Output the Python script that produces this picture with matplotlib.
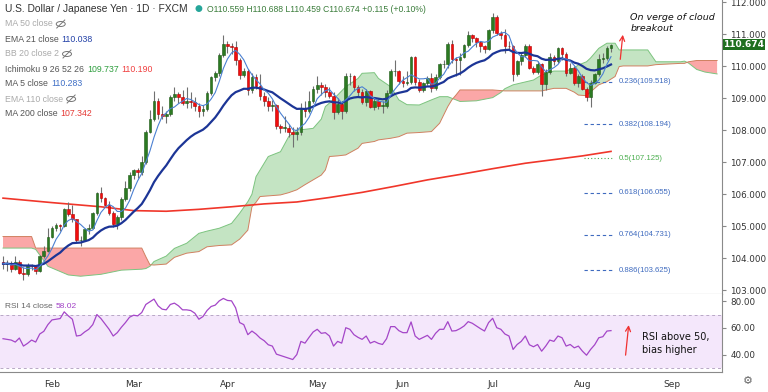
import numpy as np
import pandas as pd
import matplotlib
matplotlib.use("Agg")
import matplotlib.pyplot as plt
from matplotlib.patches import Ellipse, Rectangle
from matplotlib.lines import Line2D

# daily USD/JPY candles, 2021-01-14 .. 2021-08-11 (weekdays)
o = [103.89,103.83,103.86,103.68,103.88,103.54,103.52,103.78,103.76,103.61,104.08,104.24,
     104.68,104.94,105.03,105.02,105.53,105.39,105.22,104.57,104.58,104.93,104.94,105.40,106.03,105.87,105.68,105.43,105.06,105.28,105.86,106.20,
     106.60,106.75,106.70,107.00,107.96,108.35,108.90,108.51,108.45,108.50,109.03,109.14,109.03,108.84,108.92,108.88,108.77,108.60,108.68,109.17,109.66,109.78,110.35,
     110.71,110.63,110.61,110.18,109.74,109.85,109.27,109.65,109.39,109.07,108.93,108.75,108.78,108.14,108.08,108.08,107.95,107.88,107.94,108.71,108.59,108.90,
     109.30,109.43,109.36,109.20,109.08,108.57,108.81,108.61,109.69,109.70,109.34,109.19,108.88,109.23,108.74,108.93,108.77,108.77,109.15,109.84,109.84,
     109.55,109.47,109.52,110.29,109.50,109.25,109.48,109.62,109.33,109.68,110.06,110.06,110.71,110.22,110.20,110.30,110.66,110.97,110.87,110.76,110.62,110.53,
     111.12,111.53,111.04,110.97,110.63,110.62,109.75,110.15,110.35,110.62,109.96,109.83,110.07,109.46,109.82,110.28,110.15,110.56,110.37,109.79,109.93,109.47,
     109.71,109.30,109.05,109.48,109.77,110.23,110.27,110.559]
h = [104.08,103.95,103.92,104.08,103.96,103.73,103.84,103.82,103.80,104.11,104.40,104.94,
     105.00,105.10,105.06,105.58,105.77,105.65,105.24,104.70,104.95,105.08,105.46,106.08,106.22,105.93,105.78,105.48,105.36,105.90,106.40,106.70,
     106.80,106.83,107.20,108.00,108.64,109.23,109.00,108.75,108.60,109.10,109.35,109.20,109.25,109.36,109.20,109.05,108.85,108.80,109.22,109.70,109.85,110.40,110.97,
     110.78,110.72,110.78,110.25,109.95,109.90,109.78,109.75,109.77,109.20,109.05,108.95,108.82,108.20,108.45,108.20,108.10,108.10,108.85,108.90,109.22,109.38,
     109.70,109.52,109.45,109.35,109.20,109.00,108.92,109.80,109.79,109.72,109.40,109.30,109.30,109.25,109.05,108.98,108.90,109.25,109.90,110.20,109.88,
     109.70,109.85,110.33,110.33,109.60,109.50,109.70,109.80,109.75,110.10,110.20,110.75,110.82,110.30,110.40,110.70,111.10,111.00,110.90,110.80,110.65,111.15,
     111.66,111.60,111.10,111.15,110.80,110.65,110.20,110.40,110.70,110.68,110.00,110.15,110.10,109.90,110.40,110.35,110.60,110.60,110.45,110.10,110.00,109.75,
     109.75,109.35,109.58,109.80,110.37,110.40,110.62,110.688]
l = [103.67,103.60,103.57,103.65,103.50,103.33,103.46,103.62,103.52,103.57,104.02,104.20,
     104.62,104.85,104.86,104.98,105.31,105.15,104.50,104.40,104.55,104.77,104.92,105.35,105.75,105.62,105.36,104.98,104.93,105.20,105.80,106.10,
     106.48,106.50,106.60,106.95,107.90,108.30,108.35,108.34,108.22,108.45,108.90,108.85,108.80,108.70,108.70,108.60,108.40,108.45,108.60,109.10,109.55,109.70,110.30,
     110.40,110.38,110.05,109.60,109.65,109.10,109.15,109.30,108.95,108.75,108.60,108.60,108.05,107.90,107.95,107.80,107.48,107.70,107.85,108.40,108.55,108.85,
     109.15,109.10,109.05,109.00,108.35,108.50,108.35,108.55,109.42,109.22,109.05,108.82,108.75,108.70,108.62,108.65,108.55,108.70,109.10,109.70,109.45,
     109.35,109.40,109.45,109.40,109.20,109.20,109.40,109.20,109.25,109.60,109.95,109.95,110.10,109.70,109.72,110.25,110.60,110.75,110.60,110.45,110.40,110.50,
     111.05,110.98,110.85,110.40,110.55,109.55,109.70,110.05,110.30,109.90,109.75,109.75,109.07,109.25,109.75,110.05,110.10,110.20,109.70,109.75,109.40,109.35,
     109.25,108.92,108.72,109.45,109.70,110.10,110.20,110.459]
c = [103.83,103.86,103.68,103.88,103.54,103.52,103.78,103.76,103.61,104.08,104.24,104.68,
     104.94,105.03,105.02,105.53,105.39,105.22,104.57,104.58,104.93,104.94,105.40,106.03,105.87,105.68,105.43,105.06,105.28,105.86,106.20,106.60,
     106.75,106.70,107.00,107.96,108.35,108.90,108.51,108.45,108.50,109.03,109.14,109.03,108.84,108.92,108.88,108.77,108.60,108.68,109.17,109.66,109.78,110.35,110.71,
     110.63,110.61,110.18,109.74,109.85,109.27,109.65,109.39,109.07,108.93,108.75,108.78,108.14,108.08,108.08,107.95,107.88,107.94,108.71,108.59,108.90,109.30,
     109.43,109.36,109.20,109.08,108.57,108.81,108.61,109.69,109.70,109.34,109.19,108.88,109.23,108.74,108.93,108.77,108.77,109.15,109.84,109.84,109.55,
     109.47,109.52,110.29,109.50,109.25,109.48,109.62,109.33,109.68,110.06,110.06,110.71,110.22,110.20,110.30,110.66,110.97,110.87,110.76,110.62,110.53,111.12,
     111.53,111.04,110.97,110.63,110.62,109.75,110.15,110.35,110.62,109.96,109.83,110.07,109.46,109.82,110.28,110.15,110.56,110.37,109.79,109.93,109.47,109.71,
     109.30,109.05,109.48,109.77,110.23,110.27,110.559,110.674]

# RSI 14
rsi = [52.0,51.5,51.0,49.5,52.5,46.5,48.5,51.0,49.5,55.5,57.5,62.5,
       66.0,66.5,67.0,72.0,69.0,66.5,54.0,54.5,57.0,59.0,62.5,70.0,67.0,63.0,59.0,54.0,56.5,60.5,64.0,68.0,
       69.5,69.0,71.5,77.5,79.5,81.5,76.5,74.0,73.5,77.5,78.5,76.5,73.5,73.5,73.0,71.0,66.5,68.5,73.0,76.0,77.0,80.2,82.0,
       80.5,80.2,75.0,64.0,62.5,55.0,57.7,55.5,52.5,50.5,47.5,46.5,40.5,39.5,38.5,37.5,36.5,40.2,50.0,48.7,53.0,57.0,
       59.0,56.0,56.5,54.0,46.5,50.0,48.7,60.2,59.0,55.0,53.0,51.5,54.0,48.7,50.0,48.5,47.7,52.0,61.0,61.0,58.0,
       56.5,56.5,64.5,54.0,51.5,53.0,54.5,51.5,56.0,59.0,59.0,64.7,57.7,58.0,59.5,61.5,64.7,63.5,61.5,59.5,57.7,64.0,
       67.2,60.2,59.0,55.5,54.0,44.0,47.7,50.0,54.0,47.5,46.0,47.7,42.7,46.5,51.0,50.0,54.0,52.7,46.5,47.7,45.2,46.5,
       42.7,39.7,44.0,47.5,52.7,53.5,57.7,58.02]

# 200-day MA, read at a few bars
ma200_i = [0, 12, 24, 32, 40, 48, 56, 64, 72, 80, 88, 96, 104, 112, 120, 128, 136, 142, 149]
ma200_v = [105.88, 105.74, 105.61, 105.49, 105.47, 105.53, 105.61, 105.70, 105.76, 105.90,
           106.06, 106.25, 106.45, 106.62, 106.80, 106.97, 107.10, 107.20, 107.34]

# Ichimoku cloud edges (leading spans), read by bar
cloud_i = [0, 7, 8, 11, 16, 19, 24, 29, 34, 35, 36, 37, 40, 42, 45, 48, 50, 53, 56, 58, 60, 61, 62, 63,
           65, 68, 70, 72, 74, 76, 78, 79, 80, 82, 84, 87, 88, 91, 92, 95, 97, 99, 102, 105, 107, 109,
           110, 111, 112, 116, 120, 122, 123, 125, 130, 132, 135, 138, 140, 141, 143, 144, 146, 148,
           150, 151, 152, 158, 160, 166, 167, 168, 170, 172, 175]
span_a = [104.32, 104.32, 104.28, 103.75, 103.48, 103.44, 103.50, 103.63, 103.66, 103.68, 103.75, 103.90,
          104.07, 104.31, 104.47, 104.78, 104.85, 104.94, 105.09, 105.41, 105.77, 106.00, 106.55, 106.76,
          107.18, 107.33, 107.80, 108.01, 108.03, 108.06, 108.35, 108.74, 108.85, 109.10, 109.36, 109.62,
          109.78, 109.80, 109.62, 109.36, 108.95, 108.80, 108.79, 108.95, 109.05, 109.05, 109.00, 108.95,
          108.90, 108.92, 109.02, 109.18, 109.30, 109.42, 109.57, 109.73, 109.85, 109.85, 109.95, 110.04,
          110.14, 110.26, 110.56, 110.72, 110.72, 110.51, 110.51, 110.51, 110.14, 110.14, 110.16, 110.10,
          109.90, 109.82, 109.76]
span_b = [104.68, 104.68, 104.32, 104.32, 104.32, 104.32, 104.32, 104.32, 104.32, 104.05, 103.80, 103.79,
          103.82, 104.03, 104.16, 104.21, 104.36, 104.40, 104.42, 104.60, 104.88, 105.61, 105.75, 105.93,
          105.95, 105.98, 106.05, 106.14, 106.30, 106.45, 106.60, 106.76, 107.18, 107.20, 107.23, 107.44,
          107.59, 107.65, 107.70, 107.75, 107.80, 107.91, 107.93, 107.96, 108.22, 108.74, 108.95, 109.10,
          109.26, 109.26, 109.26, 109.24, 109.23, 109.23, 109.23, 109.23, 109.31, 109.31, 109.19, 109.10,
          109.08, 109.20, 109.42, 109.52, 109.68, 109.99, 110.01, 110.01, 110.05, 110.09, 110.09, 110.14,
          110.18, 110.18, 110.18]

fib_ratio = ["0.236", "0.382", "0.5", "0.618", "0.764", "0.886"]
fib_level = [109.518, 108.194, 107.125, 106.055, 104.731, 103.625]

months = ["Feb", "Mar", "Apr", "May", "Jun", "Jul", "Aug", "Sep"]

SANS = "Liberation Sans"
W, H = 768, 392
fig = plt.figure(figsize=(W / 100, H / 100), dpi=100)
ax = fig.add_axes([0, 1 - 294 / H, 722 / W, 294 / H])
ax2 = fig.add_axes([0, 1 - 372 / H, 722 / W, 78 / H])

n = len(c)
x = np.arange(n)
o_, h_, l_, c_ = map(np.array, (o, h, l, c))

# cloud
ca, cb, ci = np.array(span_a), np.array(span_b), np.array(cloud_i)
ax.fill_between(ci, ca, cb, where=ca >= cb, interpolate=True, color="#c4e4c3", lw=0, zorder=1)
ax.fill_between(ci, ca, cb, where=ca < cb, interpolate=True, color="#fba7a7", lw=0, zorder=1)
ax.plot(ci, ca, color="#7cc47f", lw=0.7, zorder=2)
ax.plot(ci, cb, color="#d08060", lw=0.7, zorder=2)

# moving averages
ema21 = pd.Series(c).ewm(span=21, adjust=False).mean()
ma5 = pd.Series(c).rolling(5, min_periods=1).mean()
ax.plot(ma200_i, ma200_v, color="#f0362a", lw=1.2, zorder=3)

# candles
up = c_ >= o_
ax.vlines(x, l_, h_, color="#707070", lw=0.8, zorder=4)
body = np.maximum(np.abs(c_ - o_), 0.015)
ax.bar(x, body, bottom=np.minimum(o_, c_), width=0.66,
       color=np.where(up, "#2c7a22", "#f20d0d"),
       edgecolor=np.where(up, "#1d5a16", "#b00000"), lw=0.4, zorder=5)

ax.plot(x, ema21, color="#1c3596", lw=1.6, zorder=6)
ax.plot(x, ma5, color="#4b80d2", lw=0.8, zorder=6)

# fibonacci levels
for r, v in zip(fib_ratio, fib_level):
    col = "#4caf50" if r == "0.5" else "#3f6bbf"
    ls = (0, (1, 2)) if r == "0.5" else (0, (3, 2.5))
    ax.hlines(v, 142.3, 149.6, color=col, lw=0.8, linestyles=[ls], zorder=3)
    ax.text(151.0, v, f"{r}({v:.3f})", color=col, fontsize=5.6, family=SANS,
            va="center", ha="left")

ax.annotate("", xy=(151.96, 111.07), xytext=(151.2, 110.13),
            arrowprops=dict(arrowstyle="->", color="#f03030", lw=0.9, mutation_scale=9))
ax.text(153.7, 111.51, "On verge of cloud", fontsize=6.8, style="italic", color="#111", va="center")
ax.text(153.7, 111.17, "breakout", fontsize=6.8, style="italic", color="#111", va="center")

ax.set_xlim(-0.74, 176.2)
ax.set_ylim(102.885, 112.07)
ax.yaxis.tick_right()
ax.set_yticks(range(103, 113))
ax.set_yticklabels([f"{v:.3f}" for v in range(103, 113)])
ax.set_xticks([])
ax.tick_params(axis="y", length=3, color="#888", labelsize=6.3, labelcolor="#333", pad=3)
for s in ("top", "left"):
    ax.spines[s].set_visible(False)
for s in ("right", "bottom"):
    ax.spines[s].set_color("#8a8a8a")
    ax.spines[s].set_linewidth(0.8)

# RSI pane
ax2.axhspan(30, 70, color="#f4e7fb", lw=0)
ax2.axhline(70, color="#b8a8c6", lw=0.7, ls=(0, (3, 3)))
ax2.axhline(30, color="#b8a8c6", lw=0.7, ls=(0, (3, 3)))
ax2.plot(x, rsi, color="#a446c8", lw=0.9)
ax2.annotate("", xy=(153.4, 64.2), xytext=(152.5, 37.7),
             arrowprops=dict(arrowstyle="->", color="#f03030", lw=0.9, mutation_scale=9))
ax2.text(156.6, 53.5, "RSI above 50,", fontsize=7, color="#111", va="center")
ax2.text(156.6, 43.8, "bias higher", fontsize=7, color="#111", va="center")
ax2.set_xlim(-0.74, 176.2)
ax2.set_ylim(27.2, 85.3)
ax2.yaxis.tick_right()
ax2.set_yticks([40, 60, 80])
ax2.set_yticklabels(["40.00", "60.00", "80.00"])
ax2.tick_params(axis="y", length=3, color="#888", labelsize=6.3, labelcolor="#333", pad=3)

cal = pd.bdate_range("2021-01-14", "2021-09-30")
month_pos = [int(np.argmax(cal.month == m)) for m in range(2, 10)]
ax2.set_xticks(month_pos)
ax2.set_xticklabels(months)
ax2.tick_params(axis="x", length=0, labelsize=6.5, labelcolor="#333", pad=6)
for s in ("top", "left"):
    ax2.spines[s].set_visible(False)
for s in ("right", "bottom"):
    ax2.spines[s].set_color("#8a8a8a")
    ax2.spines[s].set_linewidth(0.8)


# header / legend text in pixel coordinates
def fx(px):
    return px / W


def fy(py):
    return 1 - py / H


rend = fig.canvas.get_renderer()


def runs(x0, y0, parts, size=6.3, gap=3):
    for s, col in parts:
        t = fig.text(fx(x0), fy(y0), s, color=col, fontsize=size, family=SANS,
                     va="center", ha="left")
        x0 += t.get_window_extent(rend).width + gap
    return x0


def eye(xc, yc):
    fig.add_artist(Ellipse((fx(xc), fy(yc)), 9 / W, 5 / H, transform=fig.transFigure,
                           fill=False, ec="#777", lw=0.7))
    fig.add_artist(Line2D([fx(xc - 4), fx(xc + 4)], [fy(yc + 4), fy(yc - 4)],
                          transform=fig.transFigure, color="#777", lw=0.7))


xe = runs(5, 9, [("U.S. Dollar / Japanese Yen · 1D · FXCM", "#333")], size=7.4)
fig.text(fx(xe + 8), fy(9), "●", color="#26a69a", fontsize=6.5, va="center", ha="center")
runs(207, 9, [("O110.559 H110.688 L110.459 C110.674 +0.115 (+0.10%)", "#3b7d3b")], size=6.2)

xe = runs(5, 24, [("MA 50 close", "#aaaaaa")])
eye(xe + 5, 24)
runs(5, 39, [("EMA 21 close", "#555"), ("110.038", "#2341a8")])
xe = runs(5, 54, [("BB 20 close 2", "#aaaaaa")])
eye(xe + 5, 54)
runs(5, 69, [("Ichimoku 9 26 52 26", "#555"), ("109.737", "#2e9e3e"), ("110.190", "#f04040")])
runs(5, 84, [("MA 5 close", "#555"), ("110.283", "#3f6fc6")])
xe = runs(5, 99, [("EMA 110 close", "#aaaaaa")])
eye(xe + 5, 99)
runs(5, 114, [("MA 200 close", "#555"), ("107.342", "#e53935")])
runs(5, 306, [("RSI 14 close", "#666"), ("58.02", "#a141c6")], size=6.0)

# last price tag
fig.add_artist(Rectangle((fx(723), fy(50)), 42 / W, 11 / H, transform=fig.transFigure,
                         color="#1f6f1f", lw=0))
fig.text(fx(744), fy(44.5), "110.674", color="white", fontsize=6.5, fontweight="bold",
         va="center", ha="center")
fig.text(fx(748), fy(381), "⚙", color="#666", fontsize=8, va="center", ha="center")

fig.savefig("out.png", dpi=100)
